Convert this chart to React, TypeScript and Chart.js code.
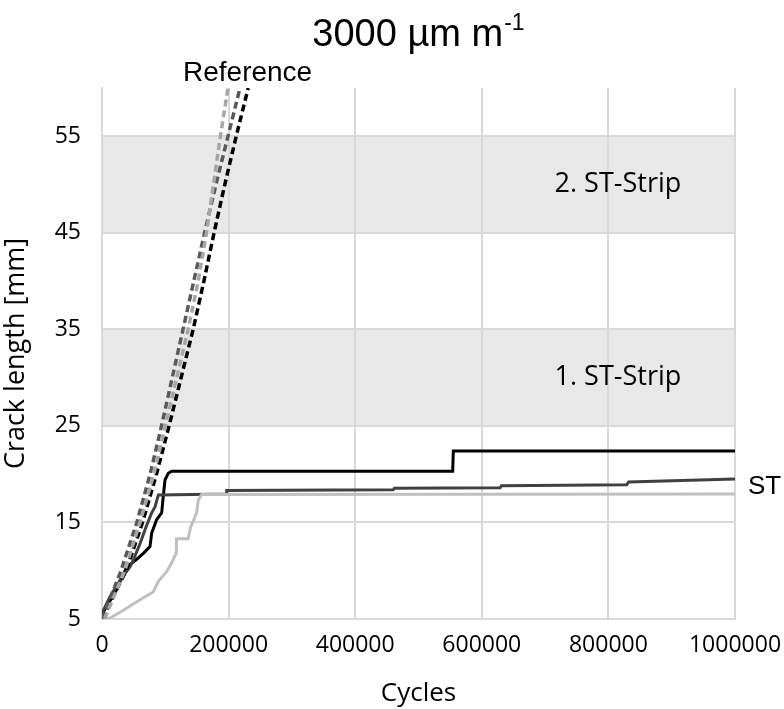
import React, { useEffect, useRef } from 'react';
import { Chart, registerables } from 'chart.js';

Chart.register(...registerables);

// ---- data ----
const xTicks = [0, 200000, 400000, 600000, 800000, 1000000];
const yTicks = [5, 15, 25, 35, 45, 55];
const bandLow = [25, 45];
const bandHigh = [35, 55];
const bandLabels = ['1. ST-Strip', '2. ST-Strip'];

// Reference specimens (dashed)
const refLevels = [5, 10, 15, 20, 25, 30, 35, 40, 45, 50, 55, 60];
const refBlackX = [0, 38000, 64000, 86000, 106000, 125000, 144000, 161000, 177000, 194000, 212000, 231000];
const refDarkX = [0, 30000, 55000, 76000, 94000, 111000, 128000, 145000, 162000, 180000, 199000, 218000];
const refLightX = [4000, 36000, 60000, 82000, 100000, 118000, 136000, 152000, 165000, 176000, 187000, 199000];

// ST specimens (solid)
const stBlackX = [0, 10000, 20500, 30000, 39000, 49400, 57000, 65300, 75800, 78500, 86400, 94300, 96800, 99500, 104700, 110000, 554000, 555000, 1000000];
const stBlackY = [5.5, 6.6, 7.7, 9.1, 10.4, 10.9, 11.3, 11.8, 12.5, 13.9, 15.3, 16.0, 17.7, 19.4, 20.1, 20.3, 20.3, 22.4, 22.4];
const stDarkX = [0, 12600, 28400, 44000, 49400, 60000, 70000, 78500, 83700, 89000, 196000, 197000, 460000, 462000, 629000, 631000, 829000, 832000, 1000000];
const stDarkY = [5.6, 7.3, 9.0, 10.4, 11.1, 12.8, 14.6, 16.0, 16.6, 17.85, 17.95, 18.3, 18.4, 18.55, 18.6, 18.8, 18.9, 19.2, 19.5];
const stLightX = [5000, 13000, 33700, 60000, 81000, 89000, 102000, 110000, 117000, 117500, 136000, 140000, 149500, 152000, 157500, 1000000];
const stLightY = [5.0, 5.1, 5.9, 7.0, 7.8, 8.9, 9.9, 10.8, 11.8, 13.3, 13.3, 14.5, 16.0, 17.3, 17.9, 17.95];

const pts = (xs: number[], ys: number[]) => xs.map((x, i) => ({ x, y: ys[i] }));

const TICK_FONT = '"Open Sans", "DejaVu Sans", sans-serif';
const ARIAL = '"Liberation Sans", Arial, sans-serif';

const overlay = {
  id: 'overlay',
  beforeDraw(chart: any) {
    const { ctx, chartArea, scales } = chart;
    const y = scales.y;
    ctx.save();
    ctx.fillStyle = '#e8e8e8';
    for (let i = 0; i < bandLow.length; i++) {
      const top = y.getPixelForValue(bandHigh[i]);
      const bot = y.getPixelForValue(bandLow[i]);
      ctx.fillRect(chartArea.left, top, chartArea.right - chartArea.left, bot - top);
    }
    ctx.restore();
  },
  afterDraw(chart: any) {
    const { ctx, scales } = chart;
    const x = scales.x;
    const y = scales.y;
    ctx.save();
    ctx.fillStyle = '#000';
    ctx.textBaseline = 'middle';
    ctx.textAlign = 'center';
    ctx.font = '27px ' + TICK_FONT;
    for (let i = 0; i < bandLow.length; i++) {
      ctx.fillText(bandLabels[i], x.getPixelForValue(815000), y.getPixelForValue((bandLow[i] + bandHigh[i]) / 2));
    }
    // Title with superscript
    ctx.textBaseline = 'alphabetic';
    ctx.textAlign = 'left';
    const main = '3000 µm m';
    const sup = '-1';
    ctx.font = '38px ' + ARIAL;
    const w1 = ctx.measureText(main).width;
    ctx.font = '23px ' + ARIAL;
    const w2 = ctx.measureText(sup).width;
    const cx = 418;
    const sx = cx - (w1 + w2) / 2;
    ctx.font = '38px ' + ARIAL;
    ctx.fillText(main, sx, 46);
    ctx.font = '23px ' + ARIAL;
    ctx.fillText(sup, sx + w1 + 1, 30);
    // Series labels
    ctx.font = '28px ' + ARIAL;
    ctx.fillText('Reference', 183, 81);
    ctx.font = '26px ' + ARIAL;
    ctx.fillText('ST', 748, 494);
    ctx.restore();
  },
};

export default function App() {
  const ref = useRef<HTMLCanvasElement | null>(null);
  useEffect(() => {
    if (!ref.current) return;
    const solid = (data: any, color: string) => ({
      data, borderColor: color, backgroundColor: color, borderWidth: 3, pointRadius: 0, tension: 0, fill: false,
    });
    const dashed = (data: any, color: string) => ({
      data, borderColor: color, backgroundColor: color, borderWidth: 3.5, borderDash: [7, 4], pointRadius: 0, tension: 0, fill: false,
    });
    const chart = new Chart(ref.current, {
      type: 'line',
      data: {
        datasets: [
          dashed(pts(refLightX, refLevels), '#a6a6a6'),
          dashed(pts(refDarkX, refLevels), '#595959'),
          dashed(pts(refBlackX, refLevels), '#000000'),
          solid(pts(stLightX, stLightY), '#c0c0c0'),
          solid(pts(stDarkX, stDarkY), '#404040'),
          solid(pts(stBlackX, stBlackY), '#000000'),
        ] as any,
      },
      options: {
        animation: false,
        responsive: false,
        maintainAspectRatio: false,
        parsing: false,
        layout: { padding: { top: 88, right: 49, left: 0, bottom: 0 } },
        plugins: { legend: { display: false }, tooltip: { enabled: false }, title: { display: false } },
        scales: {
          x: {
            type: 'linear',
            min: 0,
            max: 1000000,
            afterBuildTicks: (s: any) => { s.ticks = xTicks.map((v) => ({ value: v })); },
            afterFit: (s: any) => { s.height = 90; s.paddingRight = 0; s.paddingLeft = 0; },
            ticks: { color: '#000', font: { family: TICK_FONT, size: 23 }, padding: 13, maxRotation: 0, callback: (v: any) => String(v) },
            grid: { color: '#d9d9d9', lineWidth: 2, drawTicks: false },
            border: { display: true, color: '#d9d9d9', width: 2 },
            title: { display: true, text: 'Cycles', color: '#000', font: { family: TICK_FONT, size: 26 }, padding: { top: 0, bottom: 0 } },
          },
          y: {
            type: 'linear',
            min: 5,
            max: 60,
            afterBuildTicks: (s: any) => { s.ticks = yTicks.map((v) => ({ value: v })); },
            afterFit: (s: any) => { s.width = 102; },
            ticks: { color: '#000', font: { family: TICK_FONT, size: 23 }, padding: 21 },
            grid: { color: '#d9d9d9', lineWidth: 2, drawTicks: false },
            border: { display: true, color: '#d9d9d9', width: 2 },
            title: { display: true, text: 'Crack length [mm]', color: '#000', font: { family: TICK_FONT, size: 27 }, padding: { top: 0, bottom: 0 } },
          },
        },
      } as any,
      plugins: [overlay],
    });
    return () => chart.destroy();
  }, []);
  return (
    <div style={{ position: 'fixed', left: 0, top: 0, width: 784, height: 709, background: '#fff' }}>
      <canvas ref={ref} width={784} height={709} style={{ display: 'block' }} />
    </div>
  );
}
